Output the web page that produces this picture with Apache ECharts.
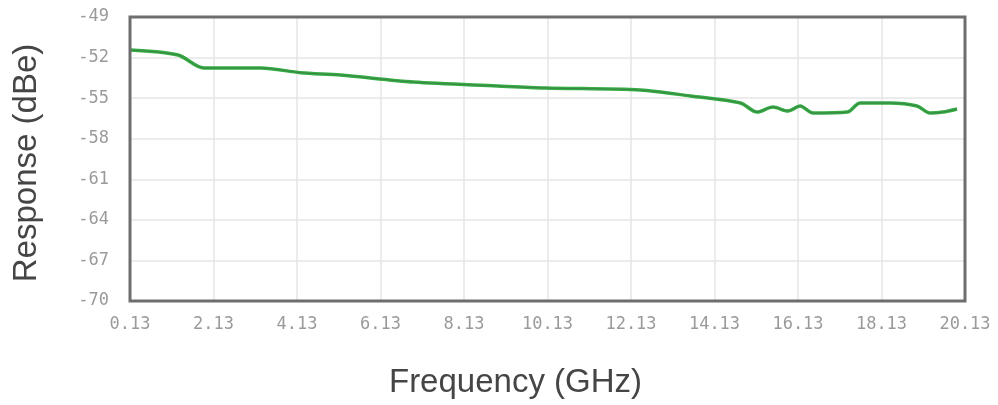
<!DOCTYPE html>
<html>
<head>
<meta charset="utf-8">
<script src="https://cdn.jsdelivr.net/npm/echarts@6/dist/echarts.min.js"></script>
<style>
html,body{margin:0;padding:0;background:#fff;}
#chart{width:998px;height:405px;}
</style>
</head>
<body>
<div id="chart"></div>
<script>
// Frequency (GHz) of the trace points
const freqGHz = [0.13, 1.28, 1.90, 3.26, 4.22, 5.17, 6.92, 8.93, 10.08, 12.35, 13.55, 14.75, 15.15, 15.53, 15.89, 16.18, 16.49, 17.31, 17.62, 18.33, 18.98, 19.29, 19.60, 19.94];
// Response (dBe)
const responseDBe = [-51.44, -51.81, -52.77, -52.77, -53.12, -53.29, -53.81, -54.10, -54.25, -54.40, -54.84, -55.36, -56.03, -55.66, -55.95, -55.58, -56.10, -56.03, -55.36, -55.36, -55.58, -56.10, -56.03, -55.80];
// X tick labels start at this frequency and step by 2 GHz
const freqStart = 0.13;
const freqEnd = 20.13;
const freqStep = 2;
// Y ticks
const yMin = -70, yMax = -49, yStep = 3;

const seriesData = freqGHz.map((f, i) => [f - freqStart, responseDBe[i]]);

const chart = echarts.init(document.getElementById('chart'), null, {renderer: 'canvas'});
chart.setOption({
  animation: false,
  backgroundColor: '#ffffff',
  grid: {
    left: 130, right: 33, top: 17, bottom: 104,
    containLabel: false,
    outerBoundsMode: 'none',
    show: true, borderColor: '#6e6e6e', borderWidth: 3, backgroundColor: 'transparent', z: 5
  },
  xAxis: {
    type: 'value',
    min: 0, max: freqEnd - freqStart, interval: freqStep,
    name: 'Frequency (GHz)',
    nameLocation: 'middle',
    nameGap: 65,
    nameTextStyle: {fontFamily: 'Liberation Sans', fontSize: 33, color: '#454545', padding: [0, 64, 0, 0]},
    axisLine: {show: false},
    axisTick: {show: false},
    axisLabel: {
      margin: 15,
      fontFamily: 'DejaVu Sans Mono', fontSize: 17, color: '#9a9a9a',
      formatter: v => (v + freqStart).toFixed(2)
    },
    splitLine: {show: true, showMinLine: false, showMaxLine: false, lineStyle: {color: '#e6e6e6', width: 1.5}}
  },
  yAxis: {
    type: 'value',
    min: yMin, max: yMax, interval: yStep,
    name: 'Response (dBe)',
    nameLocation: 'middle',
    nameGap: 87,
    nameRotate: 90,
    nameTextStyle: {fontFamily: 'Liberation Sans', fontSize: 33, color: '#454545', padding: [0, 8, 0, 0]},
    axisLine: {show: false},
    axisTick: {show: false},
    axisLabel: {
      margin: 21,
      fontFamily: 'DejaVu Sans Mono', fontSize: 17, color: '#9a9a9a',
      formatter: v => String(v)
    },
    splitLine: {show: true, showMinLine: false, showMaxLine: false, lineStyle: {color: '#e6e6e6', width: 1.5}}
  },
  series: [
    {
      type: 'line',
      data: seriesData,
      showSymbol: false,
      smooth: 0.3,
      lineStyle: {color: '#36ad44', width: 3.5},
      z: 2
    },
    {
      type: 'line',
      data: seriesData,
      showSymbol: false,
      smooth: 0.3,
      lineStyle: {color: '#3f5a44', width: 1, opacity: 0.5},
      z: 3
    }
  ]
});
</script>
</body>
</html>
